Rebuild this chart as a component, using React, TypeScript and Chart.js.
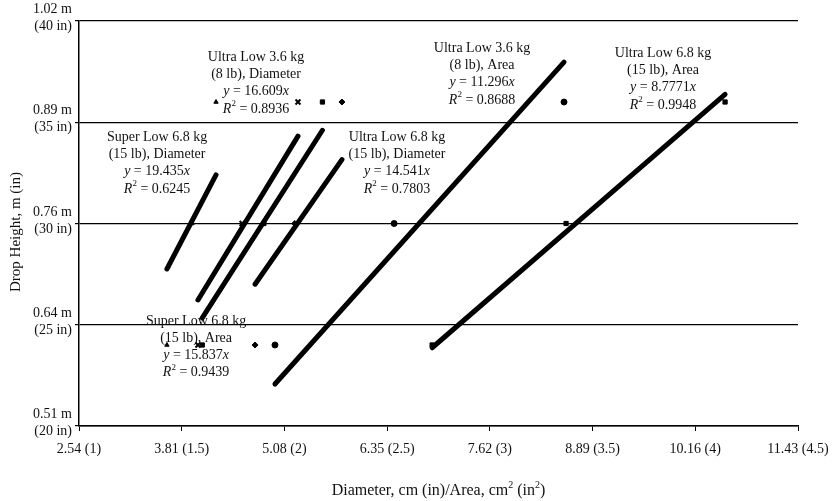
import { useEffect, useRef } from "react";
import { Chart, registerables } from "chart.js";

Chart.register(...registerables);

// Drop heights (in) at which each specimen was tested
const dropHeights = [24, 30, 36];

// Measured diameter (in) / area (in^2) per series at each drop height
const superLow68Diameter = [1.428, 1.55, 1.667];
const ultraLow36Diameter = [1.579, 1.794, 2.066];
const ultraLow68Diameter = [1.857, 2.05, 2.28];
const superLow68Area = [1.6, 1.9, 2.185];
const ultraLow36Area = [1.954, 2.534, 3.361];
const ultraLow68Area = [2.719, 3.371, 4.145];

// Trendline (through origin) coefficients shown on the chart
const trendSlopes = [19.435, 16.609, 14.541, 15.837, 11.296, 8.7771];
const trendR2 = ["0.6245", "0.8936", "0.7803", "0.9439", "0.8688", "0.9948"];
const trendSlopeText = ["19.435", "16.609", "14.541", "15.837", "11.296", "8.7771"];

const seriesNameLines = [
  ["Super Low 6.8 kg", "(15 lb), Diameter"],
  ["Ultra Low 3.6 kg", "(8 lb), Diameter"],
  ["Ultra Low 6.8 kg", "(15 lb), Diameter"],
  ["Super Low 6.8 kg", "(15 lb), Area"],
  ["Ultra Low 3.6 kg", "(8 lb), Area"],
  ["Ultra Low 6.8 kg", "(15 lb), Area"],
];
const seriesMarkers = ["triangle", "crossRot", "rectRot", "rect", "circle", "rect"];

// Axis ticks (inch values) and their printed labels
const xTickValues = [1, 1.5, 2, 2.5, 3, 3.5, 4, 4.5];
const xTickLabels = ["2.54 (1)", "3.81 (1.5)", "5.08 (2)", "6.35 (2.5)", "7.62 (3)", "8.89 (3.5)", "10.16 (4)", "11.43 (4.5)"];
const yTickValues = [20, 25, 30, 35, 40];
const yTickMetric = ["0.51 m", "0.64 m", "0.76 m", "0.89 m", "1.02 m"];
const yTickInches = ["(20 in)", "(25 in)", "(30 in)", "(35 in)", "(40 in)"];

// Label anchor positions (data coords: centre x, first line y)
const labelAnchorX = [1.38, 1.862, 2.548, 1.57, 2.962, 3.843];
const labelAnchorY = [34.27, 38.22, 34.27, 25.19, 38.67, 38.42];

const seriesValues = [
  superLow68Diameter,
  ultraLow36Diameter,
  ultraLow68Diameter,
  superLow68Area,
  ultraLow36Area,
  ultraLow68Area,
];

const FONT = "'Liberation Serif', 'Times New Roman', serif";

type Seg = { t: string; it?: boolean; sup?: boolean };

function drawSegs(ctx: CanvasRenderingContext2D, segs: Seg[], cx: number, cy: number, size: number) {
  const fontFor = (s: Seg) => `${s.it ? "italic " : ""}${s.sup ? Math.round(size * 0.65) : size}px ${FONT}`;
  let total = 0;
  const widths = segs.map((s) => {
    ctx.font = fontFor(s);
    const w = ctx.measureText(s.t).width;
    total += w;
    return w;
  });
  let x = cx - total / 2;
  ctx.textBaseline = "middle";
  ctx.textAlign = "left";
  segs.forEach((s, i) => {
    ctx.font = fontFor(s);
    ctx.fillText(s.t, x, s.sup ? cy - size * 0.35 : cy);
    x += widths[i];
  });
}

const annotationPlugin = {
  id: "annotations",
  afterDatasetsDraw(chart: any) {
    const { ctx, scales } = chart;
    const xs = scales.x;
    const ys = scales.y;
    ctx.save();
    ctx.fillStyle = "#111";
    seriesNameLines.forEach((names, i) => {
      const cx = xs.getPixelForValue(labelAnchorX[i]);
      const cy = ys.getPixelForValue(labelAnchorY[i]);
      const lines: Seg[][] = [
        [{ t: names[0] }],
        [{ t: names[1] }],
        [{ t: "y", it: true }, { t: " = " + trendSlopeText[i] }, { t: "x", it: true }],
        [{ t: "R", it: true }, { t: "2", sup: true }, { t: " = " + trendR2[i] }],
      ];
      lines.forEach((segs, j) => drawSegs(ctx, segs, cx, cy + j * 17.3, 14));
    });
    // axis titles
    const area = chart.chartArea;
    drawSegs(
      ctx,
      [{ t: "Diameter, cm (in)/Area, cm" }, { t: "2", sup: true }, { t: " (in" }, { t: "2", sup: true }, { t: ")" }],
      (area.left + area.right) / 2,
      491,
      16
    );
    ctx.translate(16, 232);
    ctx.rotate(-Math.PI / 2);
    drawSegs(ctx, [{ t: "Drop Height, m (in)" }], 0, 0, 15);
    ctx.restore();
  },
};

export default function App() {
  const ref = useRef<HTMLCanvasElement | null>(null);
  useEffect(() => {
    document.body.style.margin = "0";
    const canvas = ref.current;
    if (!canvas) return;
    const datasets: any[] = [];
    seriesValues.forEach((vals, i) => {
      const lo = Math.min(...vals);
      const hi = Math.max(...vals);
      datasets.push({
        label: seriesNameLines[i].join(" ") + " trend",
        data: [
          { x: lo, y: trendSlopes[i] * lo },
          { x: hi, y: trendSlopes[i] * hi },
        ],
        showLine: true,
        borderColor: "#000",
        borderWidth: 5,
        borderCapStyle: "round",
        pointRadius: 0,
        order: 1,
      });
    });
    seriesValues.forEach((vals, i) => {
      datasets.push({
        label: seriesNameLines[i].join(" "),
        data: vals.map((v, k) => ({ x: v, y: dropHeights[k] })),
        showLine: false,
        pointStyle: seriesMarkers[i],
        pointRadius: seriesMarkers[i] === "triangle" ? 2.5 : seriesMarkers[i] === "crossRot" ? 3.5 : 3,
        pointBorderWidth: seriesMarkers[i] === "crossRot" ? 2 : 1,
        backgroundColor: "#000",
        borderColor: "#000",
        order: 2,
      });
    });
    const chart = new Chart(canvas, {
      type: "scatter",
      data: { datasets },
      plugins: [annotationPlugin],
      options: {
        animation: false,
        responsive: false,
        layout: { padding: { left: 0, top: 21, right: 41, bottom: 0 } },
        plugins: { legend: { display: false }, tooltip: { enabled: false } },
        scales: {
          x: {
            type: "linear",
            min: 1,
            max: 4.5,
            afterBuildTicks: (s: any) => {
              s.ticks = xTickValues.map((v) => ({ value: v }));
            },
            afterFit: (s: any) => {
              s.height = 75;
            },
            ticks: {
              color: "#111",
              font: { family: FONT, size: 14 },
              padding: 10,
              maxRotation: 0,
              autoSkip: false,
              callback: (v: any) => {
                const i = xTickValues.indexOf(Number(v));
                return i >= 0 ? xTickLabels[i] : "";
              },
            },
            grid: { drawOnChartArea: false, drawTicks: true, tickLength: 5, color: "#000", lineWidth: 1 },
            border: { color: "#000", width: 1.5 },
          },
          y: {
            type: "linear",
            min: 20,
            max: 40,
            afterBuildTicks: (s: any) => {
              s.ticks = yTickValues.map((v) => ({ value: v }));
            },
            afterFit: (s: any) => {
              s.width = 79;
            },
            ticks: {
              color: "#111",
              font: { family: FONT, size: 14, lineHeight: 1.22 },
              padding: 3,
              labelOffset: -3,
              autoSkip: false,
              callback: (v: any) => {
                const i = yTickValues.indexOf(Number(v));
                return i >= 0 ? [yTickMetric[i], yTickInches[i]] : "";
              },
            },
            grid: { drawTicks: true, tickLength: 4, color: "#000", lineWidth: 1.2 },
            border: { color: "#000", width: 1.5 },
          },
        },
      },
    });
    return () => chart.destroy();
  }, []);
  return (
    <div style={{ width: 839, height: 501, background: "#fff" }}>
      <canvas ref={ref} width={839} height={501} style={{ display: "block" }} />
    </div>
  );
}
